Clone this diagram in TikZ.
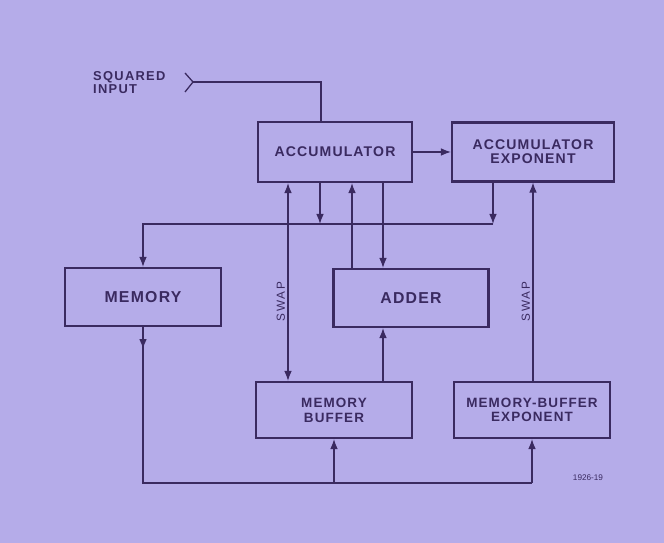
\documentclass[tikz,border=0pt]{standalone}
\usepackage{fontspec}
\setmainfont{Liberation Sans}
\newfontfamily\lett[LetterSpace=8]{Liberation Sans}
\usetikzlibrary{arrows.meta,calc}
\definecolor{plate}{RGB}{181,172,233}
\definecolor{ink}{RGB}{58,42,96}

\tikzset{
  unit/.style={draw=ink, line width=1.8pt, text=ink, align=center, inner sep=0pt,
    font=\lett\bfseries\fontsize{12}{12.5}\selectfont},
  bigunit/.style={unit, font=\lett\bfseries\fontsize{13.5}{14}\selectfont},
  wire/.style={draw=ink, line width=1.1pt},
  arr/.style={-{Latex[length=3mm,width=2.3mm]}},
  twoway/.style={{Latex[length=3mm,width=2.3mm]}-{Latex[length=3mm,width=2.3mm]}},
  swaplab/.style={text=ink, inner sep=1pt, font=\lett\fontsize{10}{10}\selectfont\addfontfeature{LetterSpace=15}},
}

\begin{document}
\begin{tikzpicture}[x=0.03cm, y=-0.03cm]
  \fill[plate] (0,0) rectangle (664,543);
  \useasboundingbox (0,0) rectangle (664,543);

  % Blocks
  \node[unit, minimum width=4.62cm, minimum height=1.8cm] (acc) at (335,152) {ACCUMULATOR};
  \node[unit, minimum width=4.86cm, minimum height=1.77cm, font=\lett\bfseries\fontsize{12}{12}\selectfont] (accexp) at (533,152) {ACCUMULATOR\\EXPONENT};
  \node[bigunit, minimum width=4.68cm, minimum height=1.74cm] (mem) at (143,297) {MEMORY};
  \node[bigunit, minimum width=4.65cm, minimum height=1.74cm] (adder) at (411,298) {ADDER};
  \node[unit, minimum width=4.68cm, minimum height=1.68cm, font=\lett\bfseries\fontsize{11.5}{13}\selectfont] (mbuf) at (334,410) {MEMORY\\BUFFER};
  \node[unit, minimum width=4.68cm, minimum height=1.68cm, font=\lett\bfseries\fontsize{11.5}{12.5}\selectfont] (mbexp) at (532,410) {MEMORY-BUFFER\\EXPONENT};

  % Tap positions
  \coordinate (xin) at (321,0);
  \coordinate (xswap) at (288,0);
  \coordinate (xdump) at (320,0);
  \coordinate (xsum) at (352,0);
  \coordinate (xadd) at (383,0);
  \coordinate (xexp) at (493,0);
  \coordinate (xeswap) at (533,0);
  \coordinate (bus) at (0,224);
  \coordinate (ret) at (0,483);
  \coordinate (sqin) at (193,82);

  % Squared input
  \node[text=ink, anchor=north west, align=left, inner sep=0pt,
    font=\lett\bfseries\fontsize{11}{11}\selectfont\addfontfeature{LetterSpace=10}] (sqlab) at (93,71) {SQUARED\\INPUT};
  \draw[wire] ($(sqin)+(-8,-9)$) -- (sqin) -- ($(sqin)+(-8,10)$);
  \draw[wire] (sqin) -| (xin |- acc.north);

  % Accumulator links
  \draw[wire, arr] (acc.east) -- (accexp.west);
  \draw[wire, arr] (xdump |- acc.south) -- (xdump |- bus);
  \draw[wire, arr] (xexp |- accexp.south) -- (xexp |- bus);
  \draw[wire, arr] (xexp |- bus) -| (mem.north);
  \draw[wire, arr] (xsum |- adder.north) -- (xsum |- acc.south);
  \draw[wire, arr] (xadd |- acc.south) -- (xadd |- adder.north);
  \draw[wire, arr] (xadd |- mbuf.north) -- (xadd |- adder.south);

  % Swap paths
  \draw[wire, twoway] (xswap |- mbuf.north) -- (xswap |- acc.south)
    node[pos=0.4, above=1pt, sloped, swaplab] (swapa) {SWAP};
  \draw[wire, arr] (xeswap |- mbexp.north) -- (xeswap |- accexp.south)
    node[pos=0.4, above=1pt, sloped, swaplab] (swapb) {SWAP};

  % Return line
  \draw[wire] (mem.south) -- (mem.south |- ret) -- (mbexp.south |- ret);
  \draw[wire, arr] (mem.south) -- ($(mem.south)+(0,22)$);
  \draw[wire, arr] (mbuf.south |- ret) -- (mbuf.south);
  \draw[wire, arr] (mbexp.south |- ret) -- (mbexp.south);

  \node[text=ink, font=\fontsize{7}{7}\selectfont] (fig) at (588,478) {1926-19};
\end{tikzpicture}
\end{document}
